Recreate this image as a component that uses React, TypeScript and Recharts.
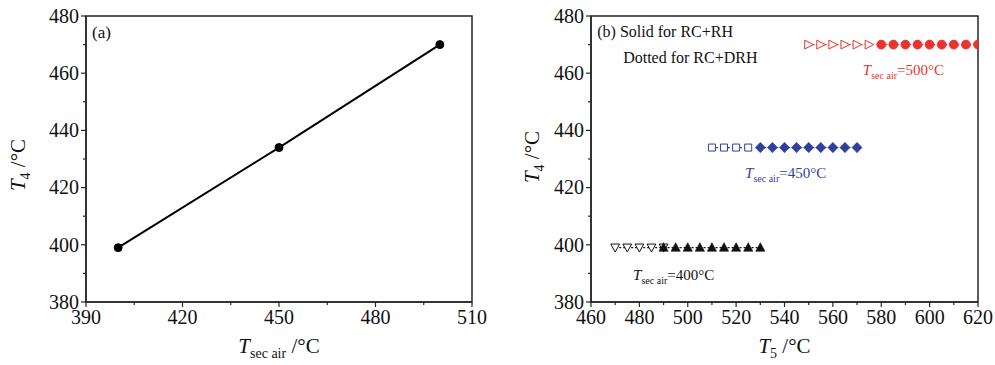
import { ComposedChart, Line, XAxis, YAxis, ReferenceArea, ReferenceDot } from 'recharts'

const FONT = '"Liberation Serif", "Times New Roman", Times, serif'
const AXIS = '#262626'
const RED = '#e8332e'
const BLUE = '#2f3f9f'
const BLACK = '#111111'

// (a) T4 vs secondary air temperature
const secAirTemps = [400, 450, 500]
const t4BySecAir = [399, 434, 470]

// (b) T5 sweeps, one T4 level per secondary air temperature
const t4Levels = [399, 434, 470]
const t5Rh400 = [490, 495, 500, 505, 510, 515, 520, 525, 530]
const t5Drh400 = [470, 475, 480, 485, 490]
const t5Rh450 = [530, 535, 540, 545, 550, 555, 560, 565, 570]
const t5Drh450 = [510, 515, 520, 525]
const t5Rh500 = [580, 585, 590, 595, 600, 605, 610, 615, 620]
const t5Drh500 = [550, 555, 560, 565, 570, 575]

const ticksAx = [390, 405, 420, 435, 450, 465, 480, 495, 510]
const ticksBx = [460, 470, 480, 490, 500, 510, 520, 530, 540, 550, 560, 570, 580, 590, 600, 610, 620]
const ticksT4 = [380, 390, 400, 410, 420, 430, 440, 450, 460, 470, 480]

const dataA = secAirTemps.map((x, i) => ({ x, y: t4BySecAir[i] }))
const rows = (xs: number[], y: number) => xs.map((x) => ({ x, y }))

type Shape = 'circle' | 'triUp' | 'triDown' | 'triRight' | 'square' | 'diamond'

function markerPath(shape: Shape, cx: number, cy: number) {
  switch (shape) {
    case 'triUp':
      return `M${cx},${cy - 5}L${cx + 4.6},${cy + 3.6}L${cx - 4.6},${cy + 3.6}Z`
    case 'triDown':
      return `M${cx - 4.4},${cy - 3.6}L${cx + 4.4},${cy - 3.6}L${cx},${cy + 4.4}Z`
    case 'triRight':
      return `M${cx - 4},${cy - 4.4}L${cx + 4.6},${cy}L${cx - 4},${cy + 4.4}Z`
    case 'square':
      return `M${cx - 3.5},${cy - 3.5}h7v7h-7Z`
    case 'diamond':
      return `M${cx},${cy - 5.2}L${cx + 5},${cy}L${cx},${cy + 5.2}L${cx - 5},${cy}Z`
    default:
      return ''
  }
}

const marker = (shape: Shape, color: string, filled: boolean) => (p: any) => {
  const { cx, cy, index } = p
  if (cx == null || cy == null) return <g key={index} />
  if (shape === 'circle')
    return <circle key={index} cx={cx} cy={cy} r={4.5} fill={filled ? color : '#fff'} stroke={color} strokeWidth={0.8} />
  return (
    <path
      key={index}
      d={markerPath(shape, cx, cy)}
      fill={filled ? color : '#fff'}
      stroke={color}
      strokeWidth={filled ? 0.6 : 1}
    />
  )
}

// tick with minor marks; only majors get a label
const makeTick = (side: 'left' | 'bottom', step: number) => (p: any) => {
  const { x, y, payload } = p
  const v = payload.value
  const major = v % step === 0
  const len = major ? 5 : 3
  if (side === 'left')
    return (
      <g>
        <line x1={x} x2={x - len} y1={y} y2={y} stroke={AXIS} strokeWidth={1.2} />
        {major && (
          <text x={x - 7} y={y} dy="0.34em" textAnchor="end" fontFamily={FONT} fontSize={20} fill="#111">
            {v}
          </text>
        )}
      </g>
    )
  return (
    <g>
      <line x1={x} x2={x} y1={y} y2={y + len} stroke={AXIS} strokeWidth={1.2} />
      {major && (
        <text x={x} y={y + 22} textAnchor="middle" fontFamily={FONT} fontSize={20} fill="#111">
          {v}
        </text>
      )}
    </g>
  )
}

// italic T with a subscript, then the unit
function XTitle({ viewBox, sub }: any) {
  const cx = viewBox.x + viewBox.width / 2
  return (
    <text x={cx} y={viewBox.y + 51} textAnchor="middle" fontFamily={FONT} fontSize={21} fill="#111">
      <tspan fontStyle="italic">T</tspan>
      <tspan fontSize={14} dy={5}>{sub}</tspan>
      <tspan dy={-5}> /°C</tspan>
    </text>
  )
}

function YTitle({ bx, cy }: any) {
  return (
    <text
      x={bx}
      y={cy}
      transform={`rotate(-90, ${bx}, ${cy})`}
      textAnchor="middle"
      fontFamily={FONT}
      fontSize={21}
      fill="#111"
    >
      <tspan fontStyle="italic">T</tspan>
      <tspan fontSize={14} dy={5}>4</tspan>
      <tspan dy={-5}> /°C</tspan>
    </text>
  )
}

const note = (lines: string, size = 16, color = '#111') => (p: any) => (
  <text x={p.cx} y={p.cy} fontFamily={FONT} fontSize={size} fill={color}>
    {lines}
  </text>
)

const secAirNote = (value: number, color: string) => (p: any) => (
  <text x={p.cx} y={p.cy} fontFamily={FONT} fontSize={15} fill={color}>
    <tspan fontStyle="italic">T</tspan>
    <tspan fontSize={10} dy={4}>sec air</tspan>
    <tspan dy={-4}>={value}°C</tspan>
  </text>
)

function PanelA() {
  return (
    <ComposedChart width={500} height={365} margin={{ top: 16, right: 28, bottom: 0, left: 0 }}>
      <XAxis
        dataKey="x"
        type="number"
        domain={[390, 510]}
        ticks={ticksAx}
        interval={0}
        height={63}
        tickSize={0}
        tickMargin={0}
        tickLine={false}
        axisLine={{ stroke: AXIS, strokeWidth: 1.5 }}
        tick={makeTick('bottom', 30)}
        label={<XTitle sub="sec air" />}
      />
      <YAxis
        dataKey="y"
        type="number"
        domain={[380, 480]}
        ticks={ticksT4}
        interval={0}
        width={86}
        tickSize={0}
        tickMargin={0}
        tickLine={false}
        axisLine={{ stroke: AXIS, strokeWidth: 1.5 }}
        tick={makeTick('left', 20)}
        label={<YTitle bx={25} cy={165} />}
      />
      <ReferenceArea x1={390} x2={510} y1={380} y2={480} fill="none" stroke={AXIS} strokeWidth={1.5} />
      <ReferenceDot x={391.9} y={472.3} r={0} shape={note('(a)', 17)} />
      <Line
        data={dataA}
        dataKey="y"
        stroke="#000"
        strokeWidth={2}
        dot={{ r: 4, fill: '#000', stroke: '#000', strokeWidth: 1 }}
        isAnimationActive={false}
      />
    </ComposedChart>
  )
}

const dotted = { strokeWidth: 1.3, strokeDasharray: '2 2' }

function PanelB() {
  return (
    <ComposedChart width={495} height={365} margin={{ top: 16, right: 17, bottom: 0, left: 0 }}>
      <XAxis
        dataKey="x"
        type="number"
        domain={[460, 620]}
        allowDataOverflow
        ticks={ticksBx}
        interval={0}
        height={63}
        tickSize={0}
        tickMargin={0}
        tickLine={false}
        axisLine={{ stroke: AXIS, strokeWidth: 1.5 }}
        tick={makeTick('bottom', 20)}
        label={<XTitle sub="5" />}
      />
      <YAxis
        dataKey="y"
        type="number"
        domain={[380, 480]}
        allowDataOverflow
        ticks={ticksT4}
        interval={0}
        width={91}
        tickSize={0}
        tickMargin={0}
        tickLine={false}
        axisLine={{ stroke: AXIS, strokeWidth: 1.5 }}
        tick={makeTick('left', 20)}
        label={<YTitle bx={39} cy={157} />}
      />
      <ReferenceArea x1={460} x2={620} y1={380} y2={480} fill="none" stroke={AXIS} strokeWidth={1.5} />
      <ReferenceDot x={462.6} y={472.7} r={0} shape={note('(b) Solid for RC+RH')} />
      <ReferenceDot x={473.3} y={463.6} r={0} shape={note('Dotted for RC+DRH')} />
      <ReferenceDot x={572.4} y={459.4} r={0} shape={secAirNote(500, RED)} />
      <ReferenceDot x={523.7} y={423.4} r={0} shape={secAirNote(450, BLUE)} />
      <ReferenceDot x={477.4} y={387.7} r={0} shape={secAirNote(400, BLACK)} />

      <Line data={rows(t5Drh400, t4Levels[0])} dataKey="y" stroke={BLACK} {...dotted} dot={marker('triDown', BLACK, false)} isAnimationActive={false} />
      <Line data={rows(t5Rh400, t4Levels[0])} dataKey="y" stroke={BLACK} {...dotted} dot={marker('triUp', BLACK, true)} isAnimationActive={false} />
      <Line data={rows(t5Drh450, t4Levels[1])} dataKey="y" stroke={BLUE} {...dotted} dot={marker('square', BLUE, false)} isAnimationActive={false} />
      <Line data={rows(t5Rh450, t4Levels[1])} dataKey="y" stroke={BLUE} {...dotted} dot={marker('diamond', BLUE, true)} isAnimationActive={false} />
      <Line data={rows(t5Drh500, t4Levels[2])} dataKey="y" stroke={RED} {...dotted} dot={marker('triRight', RED, false)} isAnimationActive={false} />
      <Line data={rows(t5Rh500, t4Levels[2])} dataKey="y" stroke={RED} {...dotted} dot={marker('circle', RED, true)} isAnimationActive={false} />
    </ComposedChart>
  )
}

export default function App() {
  return (
    <div style={{ position: 'absolute', left: 0, top: 0, width: 995, height: 365, background: '#fff', display: 'flex' }}>
      <PanelA />
      <PanelB />
    </div>
  )
}
